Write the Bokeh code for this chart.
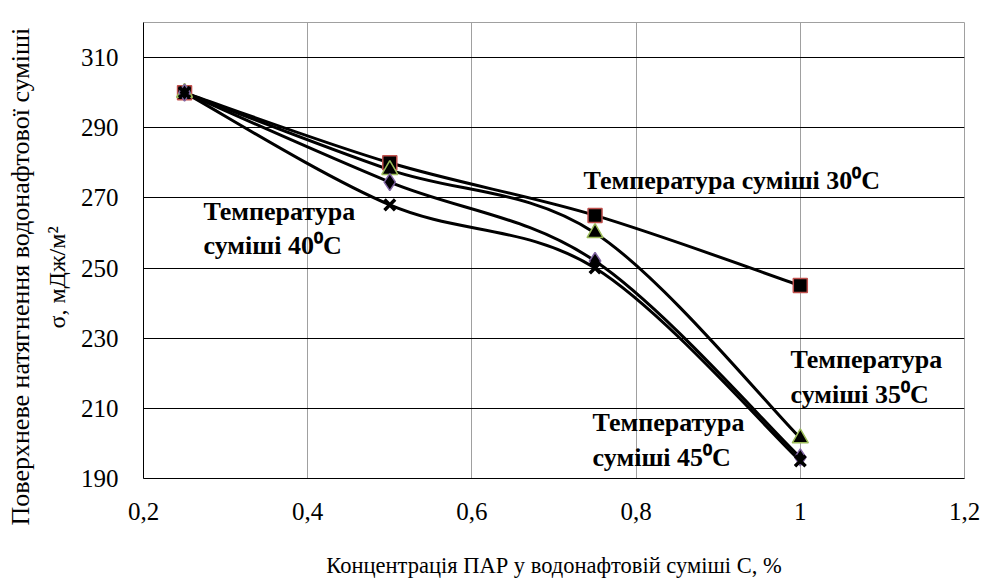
import numpy as np
from bokeh.plotting import figure
from bokeh.models import (FixedTicker, CustomJSTickFormatter, Label, Range1d,
                          ColumnDataSource, Title)
from bokeh.embed import file_html
from bokeh.resources import INLINE

# ---- data ----
conc = [0.25, 0.5, 0.75, 1.0]
s30 = [300, 280, 265, 245]
s35 = [300, 278, 260, 201.5]
s40 = [300, 274.5, 252, 196]
s45 = [300, 268, 250, 195]
x_ticks = [0.2, 0.4, 0.6, 0.8, 1.0, 1.2]
y_ticks = [190, 210, 230, 250, 270, 290, 310]

SERIF = "Liberation Serif"

p = figure(width=982, height=581, output_backend="svg", toolbar_location=None,
           x_range=Range1d(0.2, 1.2), y_range=Range1d(190, 320),
           min_border_left=143, min_border_right=18, min_border_top=22,
           min_border_bottom=103)
p.background_fill_color = "white"
p.border_fill_color = "white"
p.outline_line_color = "#a0a0a0"
p.outline_line_width = 1

p.xaxis.ticker = FixedTicker(ticks=x_ticks)
p.yaxis.ticker = FixedTicker(ticks=y_ticks)
fmt = CustomJSTickFormatter(code="var s=(Math.round(tick*10)/10).toString(); return s.replace('.', ',');")
p.xaxis.formatter = fmt
for ax in (p.xaxis[0], p.yaxis[0]):
    ax.major_tick_line_color = None
    ax.minor_tick_line_color = None
    ax.major_tick_out = 0
    ax.major_tick_in = 0
    ax.minor_tick_out = 0
    ax.minor_tick_in = 0
    ax.axis_line_color = "black"
    ax.axis_line_width = 1
    ax.major_label_text_font = SERIF
    ax.major_label_text_font_size = "25px"
    ax.major_label_text_color = "black"
    ax.axis_label_text_font = SERIF
    ax.axis_label_text_font_size = "22.5px"
    ax.axis_label_text_font_style = "normal"
    ax.axis_label_text_color = "black"
p.xaxis.major_label_standoff = 24
p.yaxis.major_label_standoff = 25
p.xaxis.axis_label = "Концентрація ПАР у водонафтовій суміші C, %"
p.xaxis.axis_label_standoff = 30

t_sigma = Title(text="σ, мДж/м²", align="left", offset=150, standoff=14,
                vertical_align="middle", text_font=SERIF, text_font_size="24px",
                text_font_style="normal", text_color="black")
t_main = Title(text="Поверхневе натягнення водонафтової суміші", align="left",
               offset=-47, standoff=0, vertical_align="middle", text_font=SERIF,
               text_font_size="26px", text_font_style="normal", text_color="black")
p.add_layout(t_sigma, "left")
p.add_layout(t_main, "left")

p.xgrid.grid_line_color = "#a0a0a0"
p.xgrid.grid_line_width = 1
p.ygrid.grid_line_color = "black"
p.ygrid.grid_line_width = 1


def smooth(xs, ys):
    pts = np.column_stack([xs, ys]).astype(float)
    n = len(pts)
    out = {k: [] for k in ("x0", "y0", "x1", "y1", "cx0", "cy0", "cx1", "cy1")}
    for i in range(n - 1):
        p0 = pts[i - 1] if i > 0 else pts[i]
        p1 = pts[i]
        p2 = pts[i + 1]
        p3 = pts[i + 2] if i + 2 < n else pts[i + 1]
        c0 = p1 + (p2 - p0) / 6.0
        c1 = p2 - (p3 - p1) / 6.0
        out["x0"].append(p1[0]); out["y0"].append(p1[1])
        out["x1"].append(p2[0]); out["y1"].append(p2[1])
        out["cx0"].append(c0[0]); out["cy0"].append(c0[1])
        out["cx1"].append(c1[0]); out["cy1"].append(c1[1])
    return ColumnDataSource(out)


for ys in (s30, s35, s40, s45):
    p.bezier(x0="x0", y0="y0", x1="x1", y1="y1", cx0="cx0", cy0="cy0",
             cx1="cx1", cy1="cy1", source=smooth(conc, ys),
             line_color="black", line_width=3)

p.scatter(conc, s30, marker="square", size=14, fill_color="black",
          line_color="#c0504d", line_width=1.5)
p.scatter(conc, s35, marker="triangle", size=16, fill_color="black",
          line_color="#9bbb59", line_width=1.5)
p.scatter(conc, s40, marker="diamond", size=17, fill_color="black",
          line_color="#8064a2", line_width=1.5)
p.scatter(conc, s45, marker="x", size=15, line_color="black", line_width=3.5)

# ---- annotations ----
def ann(x, y, text):
    p.add_layout(Label(x=x, y=y, text=text, text_font=SERIF,
                       text_font_style="bold", text_font_size="26px",
                       text_color="black", text_align="left",
                       text_baseline="middle", text_line_height=1.2))

ann(0.736, 275.0, "Температура суміші 30⁰C")
ann(0.273, 261.3, "Температура\nсуміші 40⁰C")
ann(0.988, 218.9, "Температура\nсуміші 35⁰C")
ann(0.747, 200.9, "Температура\nсуміші 45⁰C")

open("out.html", "w").write(file_html(p, INLINE))
